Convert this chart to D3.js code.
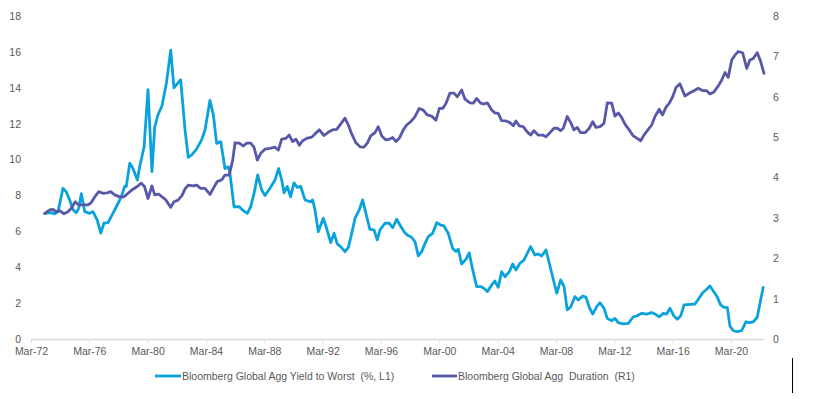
<!DOCTYPE html>
<html>
<head>
<meta charset="utf-8">
<script src="https://cdn.jsdelivr.net/npm/d3@7"></script>
<style>
  html, body { margin: 0; padding: 0; background: #fff; }
  svg { display: block; font-family: Arial, "Liberation Sans", sans-serif; }
</style>
</head>
<body>
<svg id="chart" width="836" height="399"></svg>
<script>
// ---- Data (decimal years) ----
const yieldDates = [1973.11,1973.56,1973.79,1974.02,1974.36,1974.59,1974.82,1975.05,1975.27,1975.44,1975.62,1975.85,1976.19,1976.42,1976.71,1976.95,1977.17,1977.45,1977.72,1978.02,1978.36,1978.59,1978.70,1978.94,1979.16,1979.46,1979.62,1979.92,1980.19,1980.46,1980.65,1980.88,1981.15,1981.45,1981.75,1981.97,1982.43,1982.73,1982.95,1983.19,1983.53,1983.87,1984.10,1984.44,1984.67,1984.90,1985.18,1985.47,1985.70,1985.81,1986.09,1986.45,1986.73,1987.00,1987.23,1987.46,1987.71,1987.99,1988.21,1988.56,1988.90,1989.15,1989.36,1989.52,1989.74,1989.97,1990.20,1990.43,1990.66,1990.96,1991.30,1991.48,1991.64,1991.87,1992.21,1992.44,1992.72,1992.95,1993.17,1993.40,1993.70,1993.93,1994.16,1994.39,1994.68,1994.91,1995.19,1995.41,1995.69,1995.91,1996.10,1996.44,1996.74,1996.97,1997.24,1997.47,1997.75,1997.97,1998.27,1998.50,1998.73,1998.96,1999.19,1999.41,1999.71,1999.99,2000.26,2000.49,2000.78,2001.08,2001.31,2001.47,2001.70,2002.00,2002.22,2002.46,2002.73,2003.00,2003.23,2003.46,2003.76,2003.98,2004.21,2004.44,2004.67,2004.97,2005.20,2005.42,2005.70,2005.97,2006.20,2006.43,2006.73,2006.95,2007.19,2007.48,2007.71,2007.94,2008.22,2008.49,2008.72,2008.94,2009.18,2009.47,2009.70,2010.00,2010.23,2010.45,2010.69,2010.96,2011.19,2011.46,2011.69,2011.99,2012.21,2012.44,2012.78,2013.13,2013.47,2013.70,2014.05,2014.39,2014.73,2014.96,2015.25,2015.53,2015.76,2015.99,2016.26,2016.49,2016.72,2016.95,2017.36,2017.70,2017.93,2018.23,2018.50,2018.73,2018.91,2019.19,2019.46,2019.69,2019.92,2020.10,2020.33,2020.60,2020.90,2021.20,2021.42,2021.70,2021.97,2022.16,2022.38];
const yieldValues = [7.0,7.04,6.97,7.1,8.4,8.2,7.75,7.2,7.04,7.28,8.1,7.1,7.0,7.1,6.63,5.9,6.45,6.48,6.9,7.37,7.93,8.5,8.5,9.8,9.5,8.86,9.6,10.7,13.9,9.33,11.8,12.5,13.0,14.25,16.1,14.0,14.45,11.65,10.13,10.26,10.6,11.1,11.65,13.3,12.5,10.9,11.0,9.5,9.6,9.23,7.37,7.37,7.15,7.0,7.37,8.1,9.14,8.3,8.0,8.4,8.86,9.5,8.86,8.15,8.5,7.93,8.7,8.45,8.5,7.75,7.65,7.75,7.2,5.98,6.73,6.17,5.37,5.89,5.3,5.15,4.87,5.1,5.89,6.73,7.2,7.75,6.82,6.11,6.08,5.52,6.08,6.45,6.45,6.2,6.67,6.35,5.98,5.8,5.67,5.42,4.63,4.87,5.33,5.7,5.89,6.48,6.35,6.3,5.89,5.05,4.87,5.0,4.18,4.45,4.8,3.85,2.92,2.92,2.83,2.64,3.01,3.23,2.88,3.75,3.47,3.75,4.18,3.85,4.22,4.4,4.77,5.15,4.68,4.74,4.63,4.96,4.22,3.47,2.55,3.29,2.92,1.62,1.8,2.36,2.17,2.4,2.32,1.77,1.39,1.8,2.02,1.71,1.15,1.02,1.15,0.91,0.84,0.87,1.24,1.28,1.43,1.39,1.47,1.39,1.24,1.43,1.39,1.71,1.28,1.1,1.28,1.9,1.93,1.95,2.21,2.58,2.77,2.95,2.73,2.4,1.9,1.77,1.75,0.72,0.46,0.41,0.46,0.96,0.91,0.96,1.21,1.99,2.88];

const durationDates = [1973.11,1973.45,1973.68,1973.90,1974.13,1974.43,1974.70,1974.93,1975.20,1975.44,1975.73,1976.08,1976.30,1976.58,1976.81,1977.10,1977.40,1977.63,1977.91,1978.25,1978.54,1978.82,1979.16,1979.50,1979.73,1979.96,1980.19,1980.46,1980.65,1980.92,1981.15,1981.38,1981.75,1981.97,1982.25,1982.52,1982.73,1982.95,1983.30,1983.53,1983.80,1984.10,1984.44,1984.67,1984.94,1985.24,1985.47,1985.76,1986.00,1986.16,1986.45,1986.73,1986.96,1987.23,1987.46,1987.69,1987.92,1988.21,1988.56,1988.90,1989.13,1989.36,1989.65,1989.88,1990.11,1990.34,1990.57,1990.80,1991.07,1991.42,1991.64,1991.94,1992.26,1992.55,1992.86,1993.13,1993.40,1993.70,1993.93,1994.16,1994.45,1994.73,1995.00,1995.23,1995.46,1995.76,1995.98,1996.22,1996.51,1996.74,1996.97,1997.20,1997.42,1997.70,1997.93,1998.20,1998.50,1998.79,1999.07,1999.34,1999.64,1999.94,2000.17,2000.40,2000.63,2000.90,2001.17,2001.40,2001.70,2001.93,2002.27,2002.50,2002.73,2003.00,2003.23,2003.46,2003.76,2003.98,2004.21,2004.44,2004.74,2005.01,2005.24,2005.42,2005.65,2005.92,2006.20,2006.43,2006.66,2006.95,2007.26,2007.48,2007.76,2008.03,2008.26,2008.49,2008.67,2008.94,2009.18,2009.40,2009.63,2009.86,2010.16,2010.45,2010.69,2010.91,2011.19,2011.46,2011.69,2011.99,2012.21,2012.44,2012.67,2012.90,2013.19,2013.47,2013.74,2013.98,2014.20,2014.50,2014.73,2014.96,2015.25,2015.48,2015.71,2015.94,2016.17,2016.40,2016.67,2017.01,2017.36,2017.63,2017.93,2018.23,2018.50,2018.73,2019.00,2019.30,2019.53,2019.76,2019.98,2020.22,2020.44,2020.67,2020.97,2021.25,2021.47,2021.70,2021.97,2022.21,2022.43];
const durationValues = [3.11,3.2,3.21,3.15,3.18,3.1,3.15,3.24,3.4,3.32,3.32,3.32,3.38,3.54,3.65,3.61,3.62,3.65,3.57,3.52,3.52,3.61,3.71,3.79,3.86,3.77,3.48,3.79,3.57,3.59,3.52,3.46,3.26,3.4,3.44,3.55,3.72,3.81,3.79,3.81,3.73,3.73,3.58,3.73,3.9,3.94,4.06,4.06,4.43,4.86,4.85,4.78,4.85,4.85,4.75,4.43,4.6,4.7,4.72,4.75,4.68,4.95,4.97,5.05,4.89,4.95,4.8,4.91,4.97,5.0,5.08,5.18,5.04,5.12,5.18,5.19,5.32,5.47,5.3,5.08,4.86,4.76,4.75,4.85,5.03,5.11,5.26,5.03,4.93,4.95,4.99,4.89,4.97,5.18,5.3,5.38,5.51,5.71,5.67,5.55,5.52,5.42,5.71,5.71,5.84,6.09,6.09,6.0,6.17,5.94,5.85,5.84,5.96,5.84,5.82,5.85,5.67,5.6,5.59,5.41,5.4,5.36,5.28,5.4,5.28,5.26,5.13,5.05,5.16,5.05,5.05,5.01,5.11,5.22,5.22,5.16,5.22,5.51,5.36,5.18,5.24,5.11,5.11,5.22,5.38,5.24,5.26,5.34,5.85,5.84,5.52,5.6,5.49,5.32,5.18,5.03,4.97,4.91,5.05,5.19,5.3,5.51,5.69,5.55,5.74,5.84,6.0,6.23,6.32,6.02,6.1,6.15,6.21,6.15,6.15,6.07,6.12,6.27,6.41,6.6,6.48,6.91,7.03,7.12,7.09,6.7,6.91,6.95,7.09,6.87,6.58];

const xTickYears = [1972.167,1976.167,1980.167,1984.167,1988.167,1992.167,1996.167,2000.167,2004.167,2008.167,2012.167,2016.167,2020.167];
const xTickLabels = ["Mar-72","Mar-76","Mar-80","Mar-84","Mar-88","Mar-92","Mar-96","Mar-00","Mar-04","Mar-08","Mar-12","Mar-16","Mar-20"];
const leftTicks = [0,2,4,6,8,10,12,14,16,18];
const rightTicks = [0,1,2,3,4,5,6,7,8];
const seriesNames = ["Bloomberg Global Agg Yield to Worst  (%, L1)", "Bloomberg Global Agg  Duration  (R1)"];
const seriesColors = ["#0aa2dc", "#5858a8"];

// ---- Scales ----
const svg = d3.select("#chart");
const x = d3.scaleLinear().domain([1972.167, 2022.4]).range([31, 763.5]);
const yL = d3.scaleLinear().domain([0, 18]).range([339, 16]);
const yR = d3.scaleLinear().domain([0, 8]).range([339, 16]);
const textColor = "#595959";

// x axis
const xAxis = d3.axisBottom(x)
  .tickValues(xTickYears)
  .tickFormat((d, i) => xTickLabels[i])
  .tickSize(4).tickSizeOuter(0).tickPadding(5);
const gx = svg.append("g").attr("transform", "translate(0,339)").call(xAxis);
gx.select(".domain").attr("stroke", "#d9d9d9").attr("stroke-width", 1.5);
gx.selectAll(".tick line").attr("stroke", "#d9d9d9");
gx.selectAll(".tick text").attr("fill", textColor).style("font-size", "10.5px")
  .style("font-family", "Arial, 'Liberation Sans', sans-serif");

// left axis (labels only)
const gl = svg.append("g").attr("transform", "translate(21,0)")
  .call(d3.axisLeft(yL).tickValues(leftTicks).tickSize(0).tickPadding(0));
gl.select(".domain").remove();
gl.selectAll(".tick text").attr("fill", textColor).style("font-size", "10.5px")
  .style("font-family", "Arial, 'Liberation Sans', sans-serif");

// right axis (labels only)
const gr = svg.append("g").attr("transform", "translate(773,0)")
  .call(d3.axisRight(yR).tickValues(rightTicks).tickSize(0).tickPadding(0));
gr.select(".domain").remove();
gr.selectAll(".tick text").attr("fill", textColor).style("font-size", "10.5px")
  .style("font-family", "Arial, 'Liberation Sans', sans-serif");

// lines
const yieldData = yieldDates.map((d, i) => [d, yieldValues[i]]);
const durData = durationDates.map((d, i) => [d, durationValues[i]]);

svg.append("path").datum(yieldData)
  .attr("fill", "none").attr("stroke", seriesColors[0]).attr("stroke-width", 2.8)
  .attr("stroke-linejoin", "round").attr("stroke-linecap", "round")
  .attr("d", d3.line().x(d => x(d[0])).y(d => yL(d[1])));

svg.append("path").datum(durData)
  .attr("fill", "none").attr("stroke", seriesColors[1]).attr("stroke-width", 2.8)
  .attr("stroke-linejoin", "round").attr("stroke-linecap", "round")
  .attr("d", d3.line().x(d => x(d[0])).y(d => yR(d[1])));

// legend
const legendItems = [{x: 155, w: 26}, {x: 432, w: 25}];
legendItems.forEach((it, i) => {
  const g = svg.append("g").attr("transform", `translate(${it.x},376)`);
  g.append("line").attr("x1", 0).attr("x2", it.w).attr("y1", 0).attr("y2", 0)
    .attr("stroke", seriesColors[i]).attr("stroke-width", 2.8);
  g.append("text").attr("x", it.w + 1).attr("y", 0).attr("dy", "0.35em")
    .attr("fill", textColor).style("font-size", "10.5px")
    .style("white-space", "pre").attr("xml:space", "preserve")
    .text(seriesNames[i]);
});

// stray vertical rule at bottom right
svg.append("line").attr("x1", 792.5).attr("x2", 792.5).attr("y1", 358).attr("y2", 393)
  .attr("stroke", "#000").attr("stroke-width", 1);
</script>
</body>
</html>
